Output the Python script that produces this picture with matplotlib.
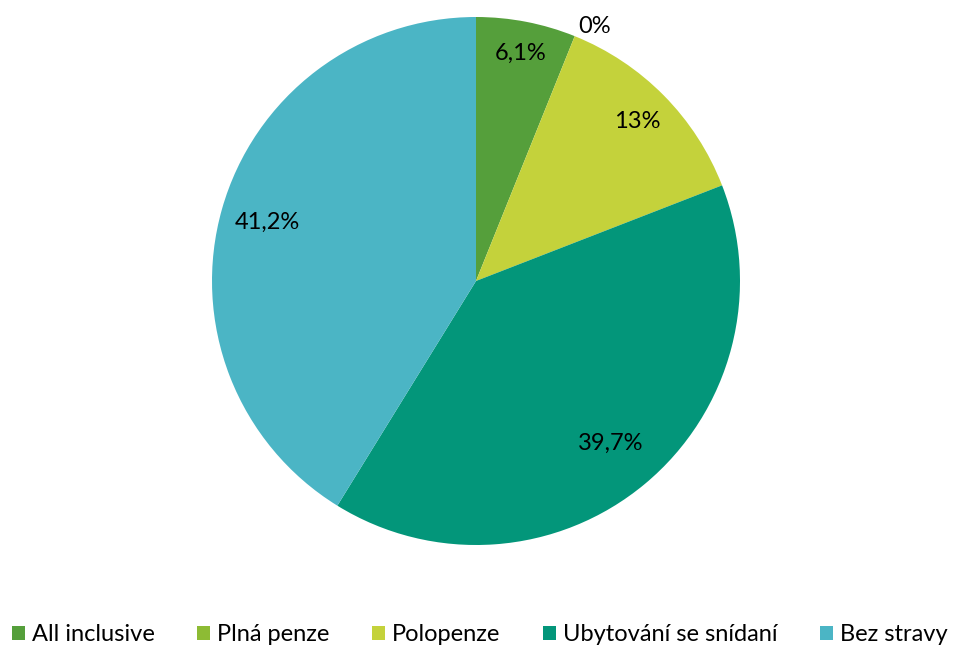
import numpy as np
import matplotlib.pyplot as plt
from matplotlib.patches import Patch

plt.rcParams['font.family'] = ['Lato', 'DejaVu Sans']

categories = ['All inclusive', 'Plná penze', 'Polopenze', 'Ubytování se snídaní', 'Bez stravy']
values = [6.1, 0, 13, 39.7, 41.2]
labels = ['6,1%', '0%', '13%', '39,7%', '41,2%']
colors = ['#559f3b', '#8dbb34', '#c4d23b', '#03967a', '#4bb5c5']
label_dist = [0.88, 1.065, 0.86, 0.80, 0.82]

W, H = 954, 649
fig = plt.figure(figsize=(W / 100, H / 100), dpi=100)
ax = fig.add_axes([212 / W, 104 / H, 528 / W, 528 / H])

wedges, _ = ax.pie(values, colors=colors, startangle=90, counterclock=False,
                   radius=1, wedgeprops=dict(linewidth=0))
ax.set_xlim(-1, 1)
ax.set_ylim(-1, 1)
ax.set_aspect('equal')

for w, lab, d in zip(wedges, labels, label_dist):
    mid = (w.theta1 + w.theta2) / 2
    if w.theta1 == w.theta2:
        mid -= 3  # empty slice label sits a bit further round, like Excel
    ang = np.deg2rad(mid)
    ax.text(d * np.cos(ang), d * np.sin(ang), lab, ha='center', va='center',
            fontsize=17, color='black')

handles = [Patch(facecolor=c, edgecolor='none') for c in colors]
fig.legend(handles, categories, loc='center', bbox_to_anchor=(0.503, 0.022),
           ncol=5, frameon=False, fontsize=17, handlelength=0.55, handleheight=0.55,
           handletextpad=0.3, columnspacing=1.8, borderpad=0.1)

fig.savefig('out.png', dpi=100)
